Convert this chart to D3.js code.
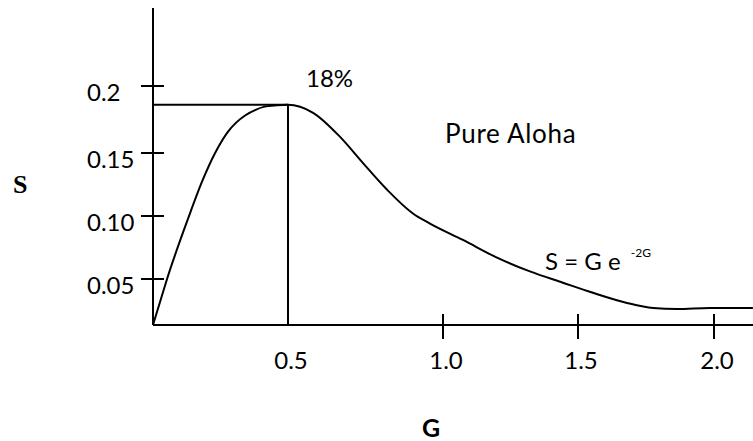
<!DOCTYPE html>
<html>
<head>
<meta charset="utf-8">
<script src="https://cdn.jsdelivr.net/npm/d3@7"></script>
<style>
  body { margin: 0; background: #fff; }
  text { font-family: Lato, "Open Sans", sans-serif; fill: #000; }
</style>
</head>
<body>
<div id="chart"></div>
<script>
// Throughput curve (G = offered load, S = throughput)
const curveG = [0, 0.026, 0.052, 0.13, 0.185, 0.23, 0.278, 0.307, 0.341, 0.38, 0.4185, 0.5, 0.581, 0.668, 0.742, 0.819, 0.903, 0.958, 1.074, 1.2, 1.322, 1.444, 1.555, 1.68, 1.776, 1.864, 1.985, 2.143];
const curveS = [0, 0.025, 0.05, 0.098, 0.129, 0.15, 0.166, 0.1725, 0.178, 0.1822, 0.1848, 0.186, 0.180, 0.162, 0.142, 0.121, 0.102, 0.094, 0.081, 0.067, 0.056, 0.046, 0.035, 0.024, 0.0185, 0.0174, 0.0185, 0.0185];

const peakG = 0.5;
const peakS = 0.186;

const xTicks = [0.5, 1.0, 1.5, 2.0];
const xTickLabels = ["0.5", "1.0", "1.5", "2.0"];
const xTickMarks = [1.0, 1.5, 2.0];
const yTicks = [0.05, 0.10, 0.15, 0.2];
const yTickLabels = ["0.05", "0.10", "0.15", "0.2"];

const width = 753, height = 441;
const margin = { top: 8, left: 153, bottom: 116 };
const plotBottom = height - margin.bottom;

const svg = d3.select("#chart").append("svg")
    .attr("width", width)
    .attr("height", height);

// the hand-drawn axes are not evenly spaced, so the scales are piecewise
const x = d3.scaleLinear()
    .domain([0, 0.5, 1.0, 1.5, 2.0])
    .range([margin.left, 288, 443, 578, 714]);

const y = d3.scaleLinear()
    .domain([0, 0.05, 0.10, 0.15, 0.2])
    .range([plotBottom, 279, 216, 153, 86]);

const stroke = 2;

// axes
svg.append("line")
    .attr("x1", margin.left).attr("x2", margin.left)
    .attr("y1", margin.top).attr("y2", plotBottom)
    .attr("stroke", "#000").attr("stroke-width", stroke);

svg.append("line")
    .attr("x1", margin.left).attr("x2", width)
    .attr("y1", plotBottom).attr("y2", plotBottom)
    .attr("stroke", "#000").attr("stroke-width", stroke);

// y ticks cross the axis
svg.selectAll(".ytick").data(yTicks).join("line")
    .attr("x1", margin.left - 12).attr("x2", margin.left + 11)
    .attr("y1", d => y(d)).attr("y2", d => y(d))
    .attr("stroke", "#000").attr("stroke-width", stroke);

svg.selectAll(".ylabel").data(yTicks).join("text")
    .attr("x", 87)
    .attr("y", d => y(d) + 15)
    .style("font-size", "24px")
    .text((d, i) => yTickLabels[i]);

// x ticks
svg.selectAll(".xtick").data(xTickMarks).join("line")
    .attr("x1", d => x(d)).attr("x2", d => x(d))
    .attr("y1", plotBottom - 11).attr("y2", plotBottom + 14)
    .attr("stroke", "#000").attr("stroke-width", stroke);

svg.selectAll(".xlabel").data(xTicks).join("text")
    .attr("x", d => x(d) + 3)
    .attr("y", plotBottom + 44)
    .attr("text-anchor", "middle")
    .style("font-size", "24px")
    .text((d, i) => xTickLabels[i]);

// peak guide lines
svg.append("line")
    .attr("x1", x(0)).attr("x2", x(peakG))
    .attr("y1", y(peakS)).attr("y2", y(peakS))
    .attr("stroke", "#000").attr("stroke-width", stroke);

svg.append("line")
    .attr("x1", x(peakG)).attr("x2", x(peakG))
    .attr("y1", y(peakS)).attr("y2", y(0))
    .attr("stroke", "#000").attr("stroke-width", stroke);

// curve
const line = d3.line()
    .x(d => x(d[0]))
    .y(d => y(d[1]))
    .curve(d3.curveMonotoneX);

svg.append("path")
    .datum(curveG.map((g, i) => [g, curveS[i]]))
    .attr("fill", "none")
    .attr("stroke", "#000")
    .attr("stroke-width", stroke)
    .attr("d", line);

// annotations
svg.append("text")
    .attr("x", x(peakG) + 18)
    .attr("y", 87)
    .style("font-size", "24px")
    .text("18%");

svg.append("text")
    .attr("x", 445)
    .attr("y", 143)
    .style("font-size", "26px")
    .style("letter-spacing", "0.7px")
    .text("Pure Aloha");

const formula = svg.append("text")
    .attr("x", 545)
    .attr("y", 270)
    .style("font-size", "24px");
formula.append("tspan").text("S = G e ");
formula.append("tspan")
    .attr("dy", -13)
    .attr("dx", 4)
    .style("font-size", "12px")
    .text("-2G");

// axis titles
svg.append("text")
    .attr("x", 13)
    .attr("y", 193)
    .style("font-family", "'Liberation Serif', 'DejaVu Serif', serif")
    .style("font-weight", "bold")
    .style("font-size", "26px")
    .text("S");

svg.append("text")
    .attr("x", 431)
    .attr("y", 437)
    .attr("text-anchor", "middle")
    .style("font-weight", "bold")
    .style("font-size", "25px")
    .text("G");
</script>
</body>
</html>
